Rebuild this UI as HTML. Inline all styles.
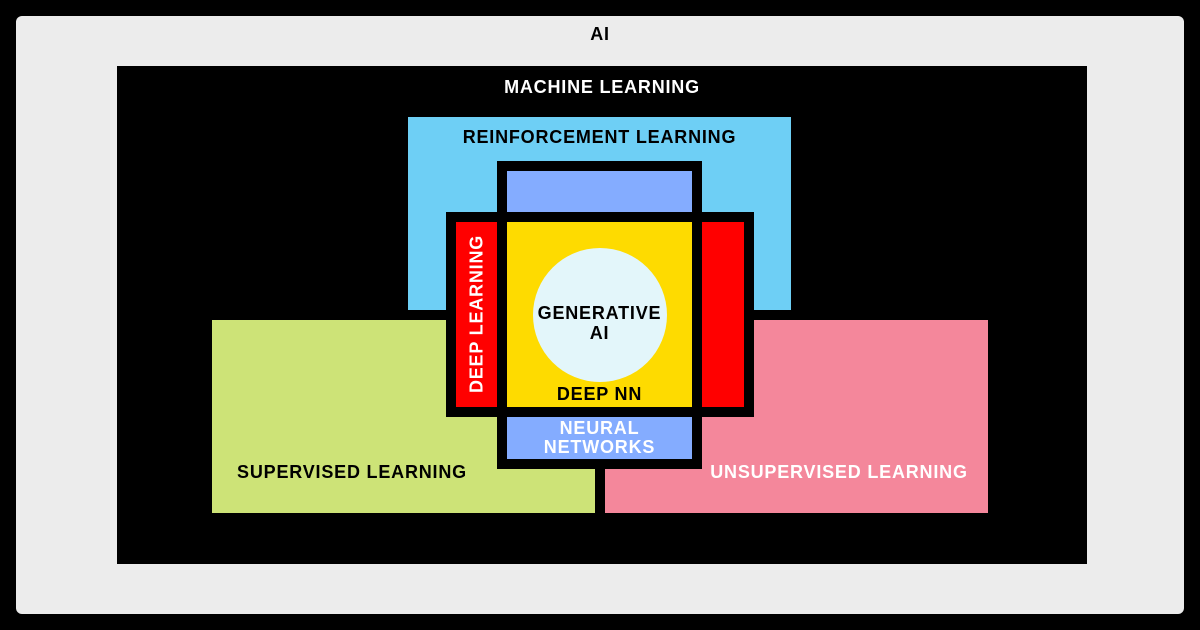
<!DOCTYPE html>
<html><head><style>
body{margin:0;width:1200px;height:630px;background:#000;position:relative;overflow:hidden;font-family:"Liberation Sans",sans-serif;font-weight:bold}
div{position:absolute;box-sizing:border-box}
.t{font-size:18px;text-align:center;white-space:nowrap;letter-spacing:0.8px}
</style></head><body>
<div style="left:16px;top:16px;width:1168px;height:598px;background:#ececec;border-radius:6px"></div>
<div class="t" style="left:0;width:1200px;top:24px;color:#000">AI</div>
<div style="left:117px;top:66px;width:970px;height:498px;background:#000"></div>
<div class="t" style="left:117px;width:970px;top:77px;color:#fff">MACHINE LEARNING</div>
<div style="left:408px;top:117px;width:383px;height:193px;background:#6ecff5"></div>
<div class="t" style="left:408px;width:383px;top:127px;color:#000">REINFORCEMENT LEARNING</div>
<div style="left:212px;top:320px;width:383px;height:193px;background:#cde377"></div>
<div class="t" style="left:212px;width:280px;top:462px;color:#000">SUPERVISED LEARNING</div>
<div style="left:605px;top:320px;width:383px;height:193px;background:#f4879b"></div>
<div class="t" style="left:705px;width:268px;top:462px;color:#fff">UNSUPERVISED LEARNING</div>
<div style="left:497px;top:161px;width:205px;height:308px;background:#000"></div>
<div style="left:446px;top:212px;width:308px;height:205px;background:#000"></div>
<div style="left:507px;top:171px;width:185px;height:41px;background:#84acff"></div>
<div style="left:507px;top:417px;width:185px;height:42px;background:#84acff"></div>
<div class="t" style="left:507px;width:185px;top:419px;color:#fff;line-height:19px">NEURAL<br>NETWORKS</div>
<div style="left:456px;top:222px;width:41px;height:185px;background:#ff0000"></div>
<div style="left:702px;top:222px;width:42px;height:185px;background:#ff0000"></div>
<div class="t" style="left:384px;top:305px;width:185px;color:#fff;transform:rotate(-90deg);transform-origin:center;line-height:18px">DEEP LEARNING</div>
<div style="left:507px;top:222px;width:185px;height:185px;background:#fedb00"></div>
<div style="left:533px;top:248px;width:134px;height:134px;border-radius:50%;background:#e3f6fa"></div>
<div class="t" style="left:507px;width:185px;top:303px;color:#000;line-height:20px">GENERATIVE<br>AI</div>
<div class="t" style="left:507px;width:185px;top:384px;color:#000">DEEP NN</div>
</body></html>
